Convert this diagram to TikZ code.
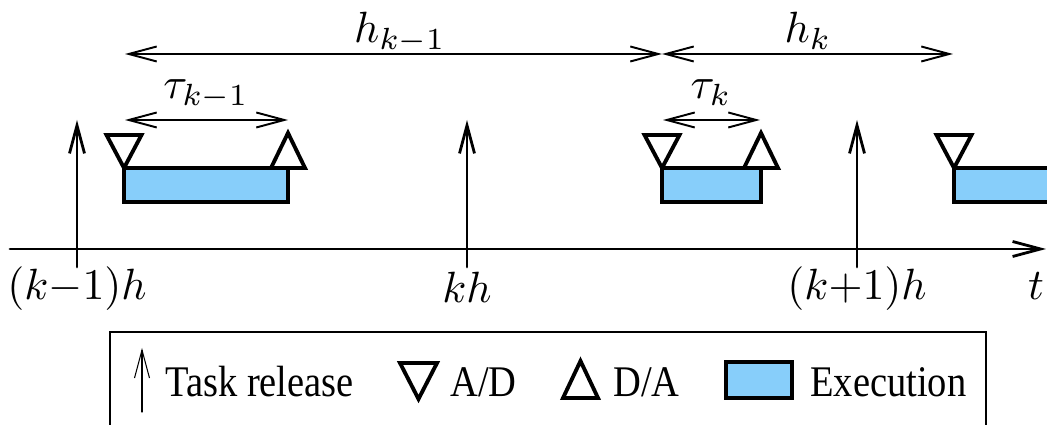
\documentclass[tikz,border=0pt]{standalone}
\usepackage{amsmath}
\usepackage[no-math]{fontspec}
\newfontfamily\legendfont{Liberation Serif}
\usetikzlibrary{arrows.meta}
\definecolor{execblue}{RGB}{135,206,250}

\begin{document}
\begin{tikzpicture}[>={Straight Barb[length=5.6mm,width=3mm]},font=\normalsize,line cap=round,
  lbl/.style={anchor=base,inner sep=0pt,scale=2.49},
  exec/.style={draw,line width=2.2pt,fill=execblue},
  tri/.style={line width=2.2pt,line join=miter},
  release/.style={->,line width=1.6pt},
  span/.style={<->,line width=1.1pt},
  legtext/.style={anchor=base west,inner sep=0pt,font=\legendfont\Huge,xscale=0.88}]
\clip (0,0) rectangle (20.94,8.5);
% time axis
\coordinate (t0) at (0.2,3.52);
\coordinate (t1) at (20.92,3.52);
\draw[->,line width=1.6pt] (t0) -- (t1);
\node[lbl] (tlab) at (20.72,2.5) {$t$};
% task releases
\coordinate (r0) at (1.54,3.16);
\coordinate (r0top) at (1.54,6.1);
\coordinate (r1) at (9.34,3.16);
\coordinate (r1top) at (9.34,6.1);
\coordinate (r2) at (17.14,3.16);
\coordinate (r2top) at (17.14,6.1);
\draw[release] (r0) -- (r0top);
\draw[release] (r1) -- (r1top);
\draw[release] (r2) -- (r2top);
\node[lbl] (lab0) at (1.54,2.5) {$(k{-}1)h$};
\node[lbl] (lab1) at (9.34,2.44) {$kh$};
\node[lbl] (lab2) at (17.14,2.5) {$(k{+}1)h$};
% executions
\draw[exec] (2.48,4.46) rectangle (5.76,5.14);
\draw[exec] (13.24,4.46) rectangle (15.22,5.14);
\draw[exec] (19.08,4.46) rectangle (21.5,5.14);
% A/D and D/A
\draw[tri] (2.13,5.8) -- (2.83,5.8) -- (2.48,5.14) -- cycle;
\draw[tri] (5.42,5.14) -- (6.1,5.14) -- (5.76,5.84) -- cycle;
\draw[tri] (12.89,5.8) -- (13.59,5.8) -- (13.24,5.14) -- cycle;
\draw[tri] (14.88,5.14) -- (15.56,5.14) -- (15.22,5.84) -- cycle;
\draw[tri] (18.73,5.8) -- (19.43,5.8) -- (19.08,5.14) -- cycle;
% sampling intervals and delays
\coordinate (h0) at (2.5,7.42);
\coordinate (h1) at (13.24,7.42);
\coordinate (h2) at (19.06,7.42);
\draw[span] (h0) -- (h1);
\draw[span] (h1) -- (h2);
\node[lbl] (hkm) at (8.0,7.64) {$h_{k-1}$};
\node[lbl] (hk) at (16.16,7.64) {$h_k$};
\coordinate (d0) at (2.5,6.1);
\coordinate (d0end) at (5.76,6.1);
\coordinate (d1) at (13.26,6.1);
\coordinate (d1end) at (15.2,6.1);
\draw[span] (d0) -- (d0end);
\draw[span] (d1) -- (d1end);
\node[lbl] (taukm) at (4.12,6.52) {$\tau_{k-1}$};
\node[lbl] (tauk) at (14.22,6.52) {$\tau_k$};
% legend
\draw[line width=1.6pt] (2.2,-0.3) rectangle (19.72,1.86);
\coordinate (lg0) at (2.84,0.26);
\coordinate (lg0top) at (2.84,1.54);
\draw[->,line width=0.6pt] (lg0) -- (lg0top);
\node[legtext] (legrel) at (3.3,0.56) {Task release};
\draw[tri] (8.0,1.24) -- (8.74,1.24) -- (8.37,0.52) -- cycle;
\node[legtext] (legad) at (9.0,0.56) {A/D};
\draw[tri] (11.26,0.54) -- (11.96,0.54) -- (11.61,1.28) -- cycle;
\node[legtext] (legda) at (12.26,0.56) {D/A};
\draw[exec] (14.52,0.54) rectangle (15.84,1.26);
\node[legtext] (legexe) at (16.2,0.56) {Execution};
\end{tikzpicture}
\end{document}
